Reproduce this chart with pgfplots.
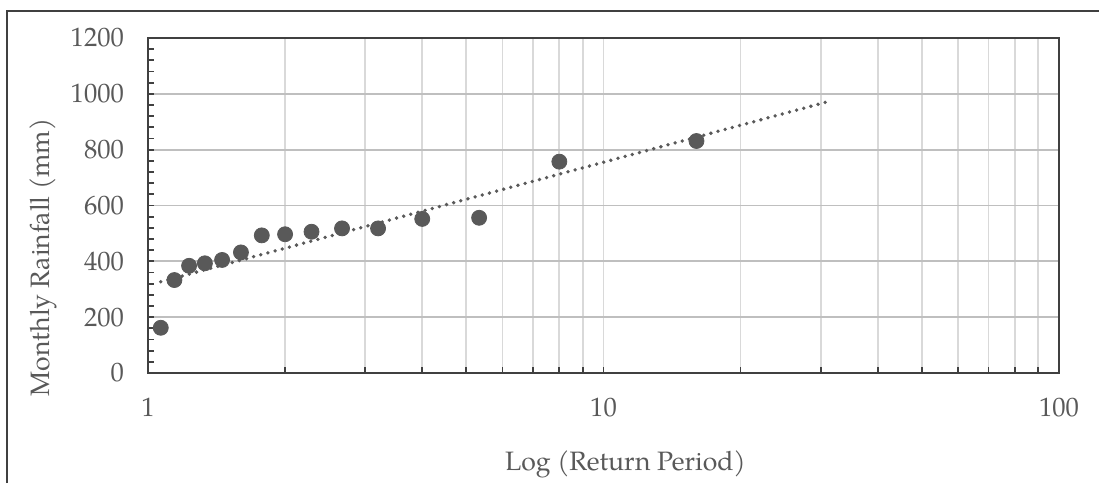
\documentclass[border=0pt]{standalone}
\usepackage{pgfplots}
\pgfplotsset{compat=1.18}
\usepackage{pgfplotstable}
\usepackage{fontspec}
\setmainfont{TeX Gyre Pagella}
\definecolor{txt}{HTML}{595959}
\definecolor{axc}{HTML}{404040}
\definecolor{hgrid}{HTML}{BFBFBF}
\definecolor{vgrid}{HTML}{D9D9D9}
\definecolor{pts}{HTML}{595959}
\pgfplotstableread{
x y
1.0667 162
1.1429 333
1.2308 384
1.3333 393
1.4545 405
1.6 432
1.7778 493
2 497
2.2857 506
2.6667 518
3.2 518
4 552
5.3333 556
8 757
16 831
}\obs
\pgfplotstableread{
x y
1.0667 326.8
31 971.4
}\trend
\begin{document}
\begin{tikzpicture}
\path[use as bounding box] (0,0) rectangle (549.5pt,241.5pt);
\draw[line width=1pt, color=axc] (3.5pt,0) -- (3.5pt,236pt) -- (549.5pt,236pt);
\begin{axis}[
  at={(74pt,55pt)}, anchor=south west,
  scale only axis, width=455.5pt, height=167.5pt,
  xmode=log, log basis x=10,
  xmin=1, xmax=100, ymin=0, ymax=1200,
  xtick={1,10,100}, xticklabels={1,10,100},
  minor xtick={2,3,4,5,6,7,8,9,20,30,40,50,60,70,80,90},
  ytick={0,200,...,1200},
  minor y tick num=4,
  tick align=inside,
  xtick pos=bottom, ytick pos=left,
  major tick length=3pt, minor tick length=3pt,
  every tick/.style={color=axc, line width=0.9pt},
  axis line style={color=axc, line width=1pt},
  xmajorgrids=true, xminorgrids=true, ymajorgrids=true,
  x grid style={color=vgrid, line width=0.9pt},
  y grid style={color=hgrid, line width=0.9pt},
  tick label style={color=txt, font=\fontsize{13.3}{15}\selectfont},
  /pgf/number format/assume math mode=true,
  /pgf/number format/1000 sep={},
  xticklabel style={yshift=-9pt},
  yticklabel style={xshift=-8.5pt},
  label style={color=txt, font=\fontsize{13.3}{15}\selectfont},
  xlabel={Log (Return Period)},
  ylabel={Monthly Rainfall (mm)},
  xlabel style={at={(axis description cs:0.5241,-0.2716)}, anchor=center},
  ylabel style={at={(axis description cs:-0.1153,0.345)}, anchor=center},
]
\addplot[color=pts, line width=1.9pt, line cap=round, dash pattern=on 0pt off 3.7pt] table[x=x,y=y] {\trend};
\addplot[only marks, mark=*, mark size=3.75pt, color=pts, mark options={fill=pts, draw=pts}] table[x=x,y=y] {\obs};
\end{axis}
\end{tikzpicture}
\end{document}
